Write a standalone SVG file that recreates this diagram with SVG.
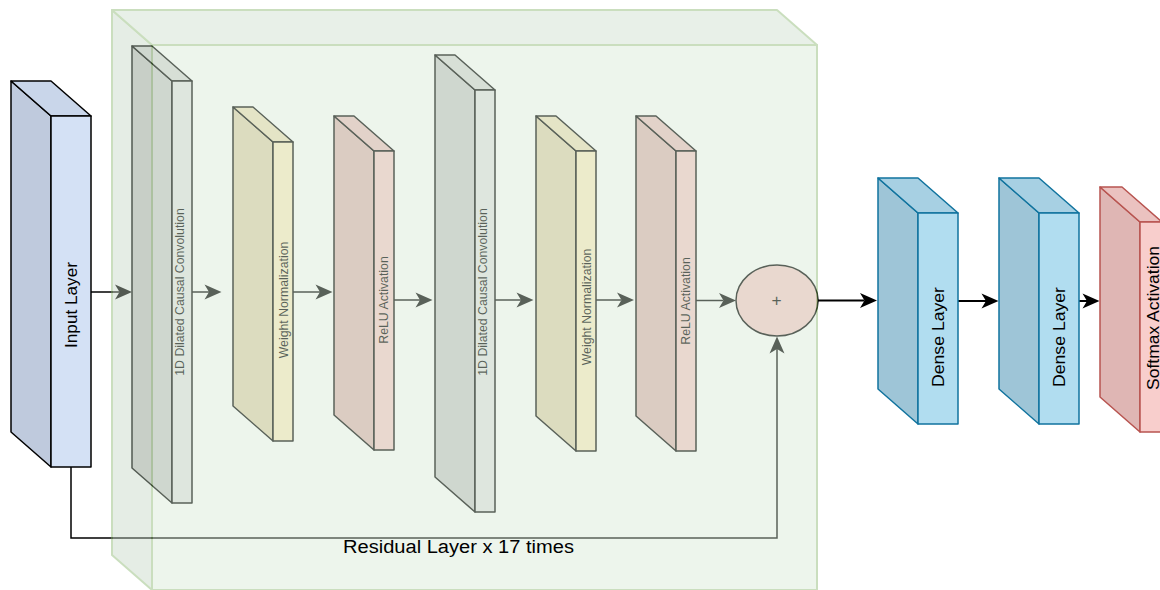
<svg xmlns="http://www.w3.org/2000/svg" width="1160" height="590" viewBox="0 0 1160 590">
<defs>
<style>
.t{font-family:"Liberation Sans",Arial,Helvetica,sans-serif;fill:#000}
.sm{font-size:12.3px}
.lg{font-size:17.4px}
.edge{fill:none;stroke:#000;stroke-width:1.5}
.in{stroke:#000;stroke-width:1.5;stroke-linejoin:round}
.conv .l{fill:#cccccc}.conv .tp{fill:#d9d9d9}.conv .f{fill:#e6e6e6}
.wn .l{fill:#e2d4b1}.wn .tp{fill:#f0e2bc}.wn .f{fill:#fdeec6}
.relu .l{fill:#e0b8b6}.relu .tp{fill:#ecc3c1}.relu .f{fill:#f8cecc}
.inp .l{fill:#bfcadd}.inp .tp{fill:#c9d6ea}.inp .f{fill:#d4e1f5}
.dense{stroke:#10739e;stroke-width:1.5;stroke-linejoin:round}
.dense .l{fill:#9ec5d7}.dense .tp{fill:#a7d0e3}.dense .f{fill:#b1ddf0}
.soft{stroke:#b85450;stroke-width:1.5;stroke-linejoin:round}
.soft .l{fill:#dfb6b4}.soft .tp{fill:#ebc2c0}.soft .f{fill:#f8cecc}
</style>
<marker id="ah" markerUnits="userSpaceOnUse" markerWidth="20" markerHeight="20" viewBox="0 -10 20 20" refX="4.5" refY="0" orient="auto" overflow="visible">
<path d="M0,-7.5 L17,0 L0,7.5 L4.5,0 Z" fill="#000"/>
</marker>
</defs>
<rect width="1160" height="590" fill="#fff"/>

<g id="input-layer" class="in inp">
<polygon class="l" points="11,81 51,116 51,467 11,432"/>
<polygon class="tp" points="11,81 51,81 91,116 51,116"/>
<rect class="f" x="51" y="116" width="40" height="351"/>
<text class="t lg" stroke="none" transform="translate(77,305) rotate(-90)" text-anchor="middle" textLength="86" lengthAdjust="spacingAndGlyphs">Input Layer</text>
</g>

<g id="conv1" class="in conv">
<polygon class="l" points="132,46 172,81 172,503 132,468"/>
<polygon class="tp" points="132,46 152,46 192,81 172,81"/>
<rect class="f" x="172" y="81" width="20" height="422"/>
<text class="t sm" stroke="none" transform="translate(184,292) rotate(-90)" text-anchor="middle">1D Dilated Causal Convolution</text>
</g>

<g id="weightnorm1" class="in wn">
<polygon class="l" points="233,107 273,142 273,441 233,406"/>
<polygon class="tp" points="233,107 253,107 293,142 273,142"/>
<rect class="f" x="273" y="142" width="20" height="299"/>
<text class="t sm" stroke="none" transform="translate(287.5,300) rotate(-90)" text-anchor="middle">Weight Normalization</text>
</g>

<g id="relu1" class="in relu">
<polygon class="l" points="334,116 374,151 374,450 334,415"/>
<polygon class="tp" points="334,116 354,116 394,151 374,151"/>
<rect class="f" x="374" y="151" width="20" height="299"/>
<text class="t sm" stroke="none" transform="translate(388,300) rotate(-90)" text-anchor="middle">ReLU Activation</text>
</g>

<g id="conv2" class="in conv">
<polygon class="l" points="435,55 475,90 475,512 435,477"/>
<polygon class="tp" points="435,55 455,55 495,90 475,90"/>
<rect class="f" x="475" y="90" width="20" height="422"/>
<text class="t sm" stroke="none" transform="translate(487,292) rotate(-90)" text-anchor="middle">1D Dilated Causal Convolution</text>
</g>

<g id="weightnorm2" class="in wn">
<polygon class="l" points="536,116 576,151 576,451 536,416"/>
<polygon class="tp" points="536,116 556,116 596,151 576,151"/>
<rect class="f" x="576" y="151" width="20" height="300"/>
<text class="t sm" stroke="none" transform="translate(590.5,307) rotate(-90)" text-anchor="middle">Weight Normalization</text>
</g>

<g id="relu2" class="in relu">
<polygon class="l" points="636,116 676,151 676,451 636,416"/>
<polygon class="tp" points="636,116 656,116 696,151 676,151"/>
<rect class="f" x="676" y="151" width="20" height="300"/>
<text class="t sm" stroke="none" transform="translate(690,301) rotate(-90)" text-anchor="middle">ReLU Activation</text>
</g>

<g id="add">
<ellipse cx="777" cy="300.5" rx="41" ry="35.5" fill="#f8cecc" stroke="#000" stroke-width="1.5"/>
<text class="t lg" x="776.5" y="306" text-anchor="middle">+</text>
</g>

<g id="connectors" marker-end="url(#ah)">
<path class="edge" d="M91,292 H119.5" marker-end="url(#ah)"/>
<path class="edge" d="M192,292 H209" marker-end="url(#ah)"/>
<path class="edge" d="M293,292 H320" marker-end="url(#ah)"/>
<path class="edge" d="M394,300 H420" marker-end="url(#ah)"/>
<path class="edge" d="M495,300 H521" marker-end="url(#ah)"/>
<path class="edge" d="M596,300 H621.5" marker-end="url(#ah)"/>
<path class="edge" d="M696,300.5 H723.5" marker-end="url(#ah)"/>
<path class="edge" d="M71,467 V538 H777 V349" marker-end="url(#ah)"/>
<path class="edge" style="stroke-width:2" d="M818,300.5 H864.5" marker-end="url(#ah)"/>
<path class="edge" style="stroke-width:2" d="M958,301 H986" marker-end="url(#ah)"/>
<path class="edge" style="stroke-width:2" d="M1079,301 H1087" marker-end="url(#ah)"/>
</g>

<g id="residual-block" opacity="0.42" stroke="#82b366" stroke-width="2" stroke-linejoin="round">
<polygon points="112,10 152,45 152,590 112,555" fill="#c3d5c2"/>
<polygon points="112,10 777,10 817,45 152,45" fill="#cadcc9"/>
<rect x="152" y="45" width="665" height="545" fill="#d5e8d4"/>
</g>

<g id="residual-label">
<text class="t" x="343" y="553" font-size="18" textLength="231" lengthAdjust="spacingAndGlyphs">Residual Layer x 17 times</text>
</g>

<g id="dense1" class="dense">
<polygon class="l" points="878,178 918,213 918,424 878,389"/>
<polygon class="tp" points="878,178 918,178 958,213 918,213"/>
<rect class="f" x="918" y="213" width="40" height="211"/>
<text class="t lg" stroke="none" transform="translate(943.5,337) rotate(-90)" text-anchor="middle" textLength="100" lengthAdjust="spacingAndGlyphs">Dense Layer</text>
</g>

<g id="dense2" class="dense">
<polygon class="l" points="999,178 1039,213 1039,424 999,389"/>
<polygon class="tp" points="999,178 1039,178 1079,213 1039,213"/>
<rect class="f" x="1039" y="213" width="40" height="211"/>
<text class="t lg" stroke="none" transform="translate(1064.5,337) rotate(-90)" text-anchor="middle" textLength="100" lengthAdjust="spacingAndGlyphs">Dense Layer</text>
</g>

<g id="softmax" class="soft">
<polygon class="l" points="1100,187 1140,222 1140,432 1100,397"/>
<polygon class="tp" points="1100,187 1122,187 1162,222 1140,222"/>
<rect class="f" x="1140" y="222" width="22" height="210"/>
<text class="t lg" stroke="none" transform="translate(1158.5,390) rotate(-90)" textLength="144" lengthAdjust="spacingAndGlyphs">Softmax Activation</text>
</g>
</svg>
